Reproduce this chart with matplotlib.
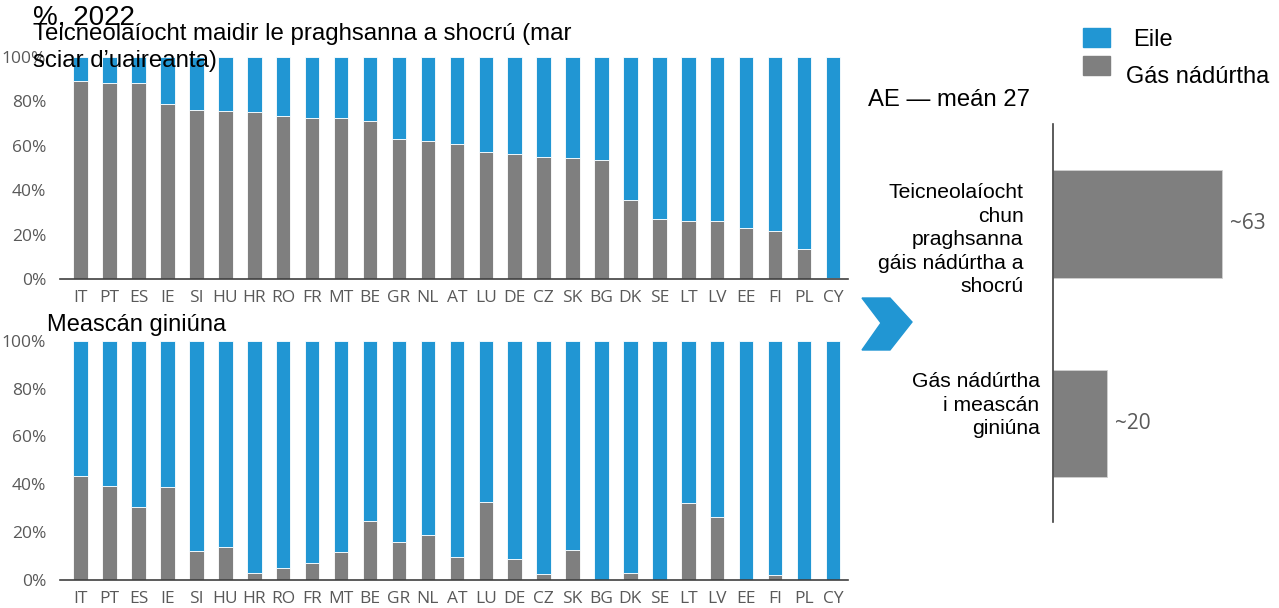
import numpy as np
import matplotlib.pyplot as plt
from matplotlib.patches import Rectangle, Polygon

countries = ["IT", "PT", "ES", "IE", "SI", "HU", "HR", "RO", "FR", "MT", "BE", "GR", "NL",
             "AT", "LU", "DE", "CZ", "SK", "BG", "DK", "SE", "LT", "LV", "EE", "FI", "PL", "CY"]
# price setting share (gas), %
price_gas = [89.4, 88.5, 88.5, 79.0, 76.3, 75.9, 75.4, 73.2, 72.7, 72.3, 71.1, 63.0, 62.1,
             60.6, 57.0, 56.4, 54.9, 54.3, 53.4, 35.8, 26.9, 26.0, 26.0, 22.8, 21.7, 13.4, 0.5]
# share in generation mix (gas), %
mix_gas = [43.3, 39.4, 30.4, 38.7, 12.0, 13.7, 3.1, 4.9, 7.2, 11.6, 24.5, 15.8, 18.9,
           9.5, 32.5, 8.6, 2.4, 12.5, 0.0, 2.8, 0.0, 32.0, 26.2, 0.0, 1.9, 0.0, 0.0]
eu_labels = ["Teicneolaíocht\nchun\npraghsanna\ngáis nádúrtha a\nshocrú",
             "Gás nádúrtha\ni meascán\nginiúna"]
eu_values = [63, 20]

BLUE = "#2196D3"
GREY = "#7F7F7F"
TICK = "#595959"
W, H = 1279, 608

fig = plt.figure(figsize=(12.79, 6.08), dpi=100)

def fx(px):
    return px / W

def fy(py):
    return 1 - py / H

def stacked(ax, gas):
    x = np.arange(len(countries))
    gas = np.array(gas)
    ax.bar(x, gas, width=0.5, color=GREY, edgecolor="white", linewidth=0.6)
    ax.bar(x, 100 - gas, bottom=gas, width=0.5, color=BLUE, edgecolor="white", linewidth=0.6)
    ax.set_xlim(-0.716, 26.52)
    ax.set_ylim(0, 100)
    ax.set_xticks(x)
    ax.set_xticklabels(countries, family="Open Sans", fontsize=12.5, color=TICK)
    ax.set_yticks(np.arange(0, 101, 20))
    ax.set_yticklabels([f"{v}%" for v in range(0, 101, 20)], family="Open Sans",
                       fontsize=12.5, color=TICK)
    ax.tick_params(length=0, axis="y", pad=10)
    ax.tick_params(length=0, axis="x", pad=8)
    for s in ["top", "right", "left"]:
        ax.spines[s].set_visible(False)
    ax.spines["bottom"].set_color("#404040")
    ax.spines["bottom"].set_linewidth(1.2)

ax1 = fig.add_axes([fx(60), fy(279), fx(848 - 60), (279 - 57) / H])
stacked(ax1, price_gas)
ax2 = fig.add_axes([fx(60), fy(580), fx(848 - 60), (580 - 340.7) / H])
stacked(ax2, mix_gas)

fig.text(fx(33), fy(18), "%, 2022", fontsize=20, family="Liberation Sans", va="center")
fig.text(fx(33), fy(23), "Teicneolaíocht maidir le praghsanna a shocrú (mar\nsciar d’uaireanta)",
         fontsize=17.3, family="Liberation Sans", va="top", linespacing=1.32)
fig.text(fx(47), fy(325), "Meascán giniúna", fontsize=17, family="Liberation Sans", va="center")

# right panel: EU-27 averages
ax3 = fig.add_axes([fx(1053), fy(522), fx(W - 1053), (522 - 124) / H])
y = np.array([1, 0])
ax3.barh(y, eu_values, height=0.54, color=GREY, edgecolor="#d0d0d0", linewidth=0.6)
ax3.set_xlim(0, (W - 1053) / 2.683)
ax3.set_ylim(-0.494, 1.501)
ax3.set_xticks([])
ax3.set_yticks([])
for s in ["top", "right", "bottom"]:
    ax3.spines[s].set_visible(False)
ax3.spines["left"].set_color("#404040")
ax3.spines["left"].set_linewidth(1.2)
for yi, v in zip(y, eu_values):
    ax3.text(v + 3, yi, f"~{v}", va="center", ha="left", fontsize=15,
             family="Open Sans", color=TICK)
ax3.text(-11, 1 - 0.08, eu_labels[0], ha="right", va="center", fontsize=15.2,
         family="Liberation Sans", linespacing=1.3)
ax3.text(-5, 0.09, eu_labels[1], ha="right", va="center", fontsize=15.2,
         family="Liberation Sans", linespacing=1.3)

fig.text(fx(868), fy(100), "AE — meán 27", fontsize=17.2, family="Liberation Sans", va="center")

# legend
fig.patches.append(Rectangle((fx(1083), fy(47)), fx(27), 19 / H, color=BLUE,
                             transform=fig.transFigure))
fig.patches.append(Rectangle((fx(1083), fy(75)), fx(27), 19 / H, color=GREY,
                             transform=fig.transFigure))
fig.text(fx(1133), fy(40), "Eile", fontsize=17, family="Liberation Sans", va="center")
fig.text(fx(1126), fy(77), "Gás nádúrtha", fontsize=17, family="Liberation Sans", va="center")

# chevron
pts = [(862, 298), (890, 298), (912, 322), (890, 350), (862, 350), (881, 323)]
fig.patches.append(Polygon([(fx(a), fy(b)) for a, b in pts], closed=True, color=BLUE,
                           transform=fig.transFigure))

fig.savefig("out.png", dpi=100)
